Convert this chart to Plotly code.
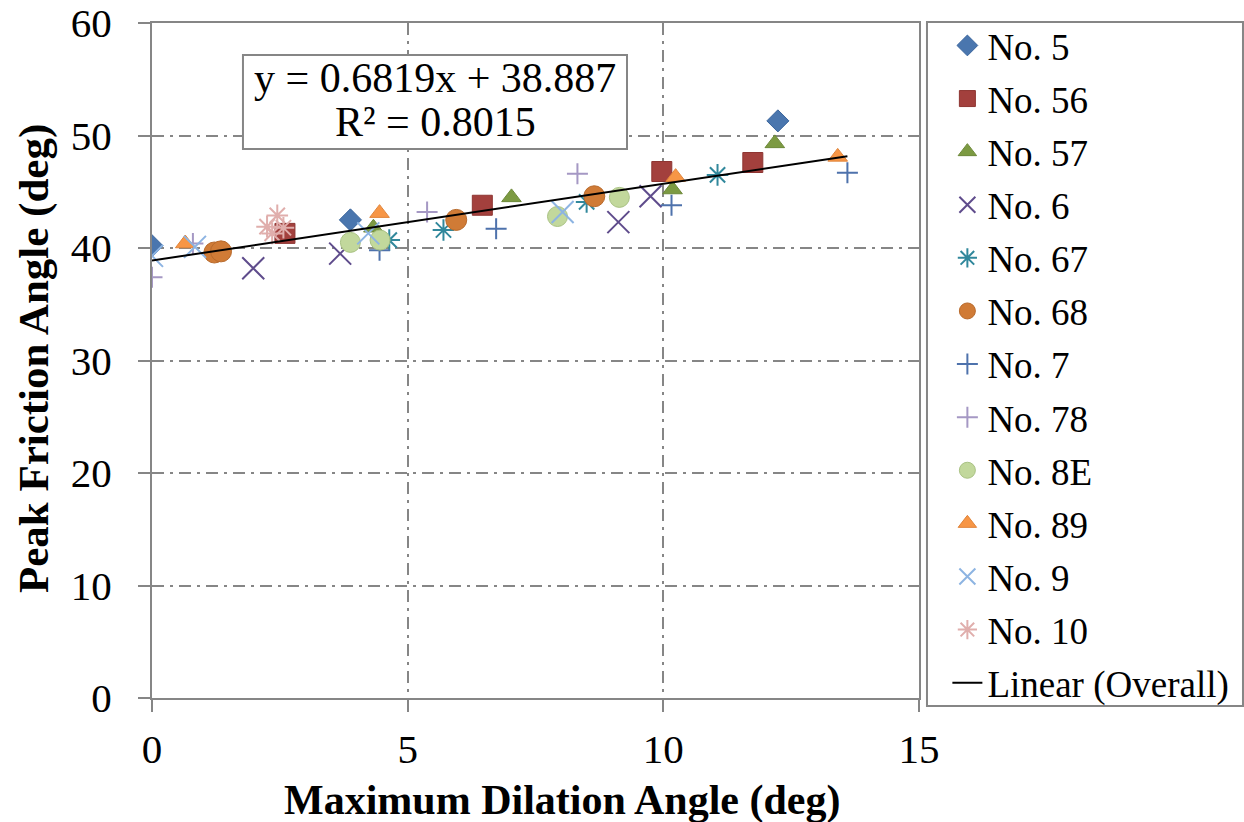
import plotly.graph_objects as go

# Maximum dilation angle (deg) and peak friction angle (deg) per gradation
no5_x = [0.0, 3.88, 12.24]
no5_y = [40.2, 42.5, 51.3]
no56_x = [2.60, 6.46, 9.97, 11.75]
no56_y = [41.3, 43.8, 46.8, 47.6]
no57_x = [4.33, 7.03, 10.18, 12.18]
no57_y = [41.8, 44.5, 45.2, 49.3]
no6_x = [1.98, 3.68, 9.12, 9.75]
no6_y = [38.2, 39.5, 42.3, 44.6]
no67_x = [4.64, 5.70, 8.50, 11.06]
no67_y = [40.7, 41.6, 44.1, 46.5]
no68_x = [1.22, 1.35, 5.95, 8.65]
no68_y = [39.6, 39.7, 42.5, 44.6]
no7_x = [4.45, 6.73, 10.16, 13.60]
no7_y = [39.8, 41.7, 43.8, 46.7]
no78_x = [0.0, 0.80, 5.38, 8.32]
no78_y = [37.4, 40.4, 43.2, 46.6]
no8e_x = [3.88, 4.46, 7.93, 9.14]
no8e_y = [40.5, 40.7, 42.8, 44.5]
no89_x = [0.65, 4.45, 10.24, 13.41]
no89_y = [40.4, 43.1, 46.3, 48.1]
no9_x = [0.0, 0.84, 4.23, 8.03]
no9_y = [39.3, 40.1, 41.3, 43.2]
no10_x = [2.25, 2.45, 2.57, 2.35]
no10_y = [41.9, 42.9, 41.8, 41.3]

# Overall linear fit reported on the chart
slope = 0.6819
intercept = 38.887
r_squared = 0.8015

x_ticks = [0, 5, 10, 15]
y_ticks = [0, 10, 20, 30, 40, 50, 60]

FONT = "Liberation Serif, Times New Roman, serif"
GRID = "#868686"

series = [
    ("No. 5", no5_x, no5_y, "diamond", 17, "#4A76AE", "#3A659D", 1),
    ("No. 56", no56_x, no56_y, "square", 20, "#A3403D", "#8E3532", 1),
    ("No. 57", no57_x, no57_y, "triangle-up", 17, "#7C9A42", "#6C8838", 1),
    ("No. 6", no6_x, no6_y, "x-thin-open", 22, "#5F4C8C", "#5F4C8C", 2),
    ("No. 67", no67_x, no67_y, "asterisk-open", 18, "#31889C", "#31889C", 2),
    ("No. 68", no68_x, no68_y, "circle", 21, "#D07B36", "#B86A2C", 1),
    ("No. 7", no7_x, no7_y, "cross-thin-open", 15, "#4E72AC", "#4E72AC", 2),
    ("No. 78", no78_x, no78_y, "cross-thin-open", 15, "#A598C4", "#A598C4", 2),
    ("No. 8E", no8e_x, no8e_y, "circle", 20, "#C2D89C", "#A9C283", 1),
    ("No. 89", no89_x, no89_y, "triangle-up", 17, "#F79646", "#E0843A", 1),
    ("No. 9", no9_x, no9_y, "x-thin-open", 22, "#8DB4E2", "#8DB4E2", 2),
    ("No. 10", no10_x, no10_y, "asterisk-open", 18, "#E0AEAC", "#E0AEAC", 2),
]

fig = go.Figure()
for i, (name, xs, ys, sym, size, fill, edge, lw) in enumerate(series):
    fig.add_trace(go.Scatter(
        x=xs, y=ys, mode="markers", name=name, legendgroup=f"g{i}",
        marker=dict(symbol=sym, size=size, color=fill,
                    line=dict(color=edge, width=lw)),
    ))

all_x = sum((s[1] for s in series), [])
fit_x = [min(all_x), max(all_x)]
fit_y = [slope * v + intercept for v in fit_x]
fig.add_trace(go.Scatter(
    x=fit_x, y=fit_y, mode="lines", name="Linear (Overall)", legendgroup="fit",
    line=dict(color="black", width=2),
))

axis_common = dict(
    showline=True, linecolor=GRID, linewidth=2, mirror=True,
    showgrid=True, gridcolor=GRID, gridwidth=1.5, griddash="12px,6px,3px,6px",
    zeroline=False, ticks="outside", ticklen=12, tickcolor=GRID, tickwidth=2,
    tickfont=dict(family=FONT, size=41, color="black"),
    automargin=False,
)

fig.update_xaxes(range=[0, 15], tickvals=x_ticks, ticklabelstandoff=2, **axis_common)
fig.update_yaxes(range=[0, 60], tickvals=y_ticks, ticklabelstandoff=18, **axis_common)

# Legend frame
fig.add_shape(type="rect", xref="paper", yref="paper",
              x0=1.0104, x1=1.4224, y0=-0.0119, y1=1.0015,
              line=dict(color=GRID, width=2), fillcolor="rgba(0,0,0,0)", layer="below")

# Trendline equation box
fig.add_shape(type="rect", xref="paper", yref="paper",
              x0=0.1186, x1=0.6193, y0=0.8133, y1=0.9526,
              line=dict(color=GRID, width=2), fillcolor="white", layer="above")
fig.add_annotation(xref="paper", yref="paper", x=0.3690, y=0.9185, yanchor="middle",
                   text=f"y = {slope}x + {intercept}", showarrow=False,
                   font=dict(family=FONT, size=42, color="black"))
fig.add_annotation(xref="paper", yref="paper", x=0.3690, y=0.8533, yanchor="middle",
                   text=f"R² = {r_squared}", showarrow=False,
                   font=dict(family=FONT, size=42, color="black"))

# Axis titles
fig.add_annotation(xref="paper", yref="paper", x=0.535, y=-0.152, yanchor="middle",
                   text="<b>Maximum Dilation Angle (deg)</b>", showarrow=False,
                   font=dict(family=FONT, size=42, color="black"))
fig.add_annotation(xref="paper", yref="paper", x=-0.153, y=0.503, xanchor="center",
                   yanchor="middle",
                   text="<b>Peak Friction Angle (deg)</b>", showarrow=False, textangle=-90,
                   font=dict(family=FONT, size=43, color="black"))

fig.update_layout(
    width=1244, height=822,
    margin=dict(l=152, r=325, t=23, b=124, autoexpand=False),
    paper_bgcolor="white", plot_bgcolor="white",
    showlegend=True,
    legend=dict(x=1.037, y=1.012, xanchor="left", yanchor="top",
                font=dict(family=FONT, size=37, color="black"),
                bgcolor="rgba(0,0,0,0)", borderwidth=0,
                tracegroupgap=2, itemsizing="trace", maxheight=1.0),
)

fig.write_html("out.html")
